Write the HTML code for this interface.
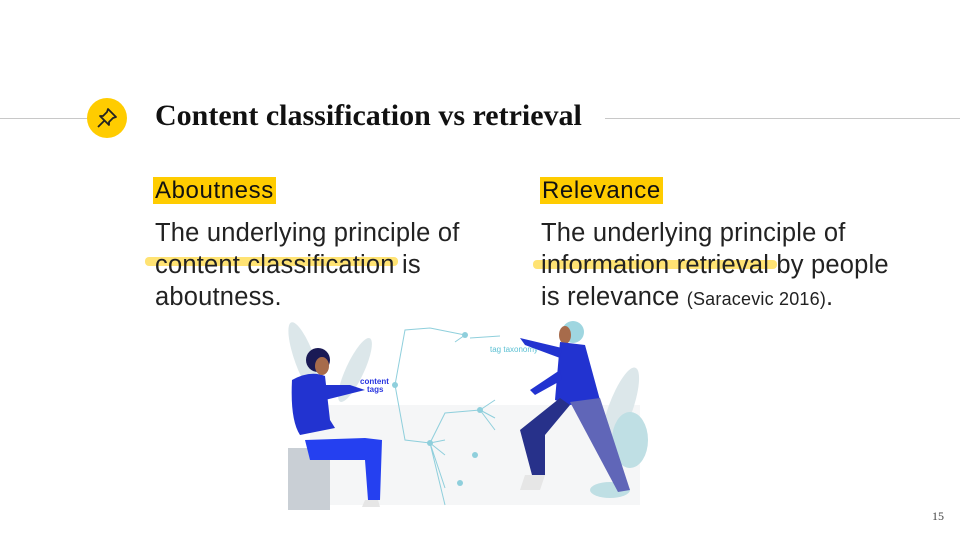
<!DOCTYPE html>
<html><head><meta charset="utf-8">
<style>
body{margin:0;width:960px;height:540px;background:#fff;position:relative;overflow:hidden;font-family:"Liberation Sans",sans-serif;}
.abs{position:absolute;}
.rule{position:absolute;top:118px;height:1px;background:#c8c8c8;}
.title{left:155px;top:99px;font-family:"Liberation Serif",serif;font-weight:bold;font-size:30px;color:#111;white-space:nowrap;}
.head{font-size:24px;color:#111;background:#ffcc00;padding:0 2px;line-height:28px;letter-spacing:0.6px;}
.body{font-size:25.5px;line-height:32px;color:#222;white-space:nowrap;letter-spacing:0.2px;}
.hl{position:absolute;height:9px;background:rgba(255,204,0,0.55);border-radius:4px;}
</style></head><body>
<div class="rule" style="left:0;width:88px"></div>
<div class="rule" style="left:605px;width:355px"></div>
<svg class="abs" style="left:86px;top:97px" width="42" height="42" viewBox="0 0 42 42">
<circle cx="21" cy="21" r="20" fill="#ffcc00"/>
<g stroke="#222" stroke-width="1.8" fill="none" stroke-linejoin="round"><path d="M22 12 L30 20 L27 21 L23 25 L23 28 L14 19 L17 19 L21 15 Z"/><path d="M18 24 L12 30"/></g>
</svg>
<div class="abs title">Content classification vs retrieval</div>

<div class="abs" style="left:153px;top:177px"><span class="head">Aboutness</span></div>
<div class="hl" style="left:145px;top:257px;width:253px"></div>
<div class="abs body" style="left:155px;top:217px">The underlying principle of<br>content classification is<br>aboutness.</div>

<div class="abs" style="left:540px;top:177px"><span class="head">Relevance</span></div>
<div class="hl" style="left:533px;top:260px;width:244px"></div>
<div class="abs body" style="left:541px;top:217px">The underlying principle of<br>information retrieval by people<br>is relevance <span style="font-size:18px">(Saracevic 2016)</span>.</div>

<svg class="abs" style="left:270px;top:310px" width="400" height="210" viewBox="0 0 400 210">
<rect x="40" y="95" width="330" height="100" fill="#f5f6f7"/>
<g fill="#dce7ea"><ellipse cx="35" cy="50" rx="10" ry="40" transform="rotate(-20 35 50)"/><ellipse cx="85" cy="60" rx="9" ry="35" transform="rotate(25 85 60)"/><ellipse cx="350" cy="100" rx="12" ry="45" transform="rotate(20 350 100)"/></g>
<g fill="#bfdfe4"><ellipse cx="360" cy="130" rx="18" ry="28"/><ellipse cx="340" cy="180" rx="20" ry="8"/></g>
<g stroke="#8fcfdc" stroke-width="1" fill="none">
<path d="M125 75 L135 20 L160 18 M125 75 L135 130 L160 133 M160 18 L195 25 M160 133 L175 103 L210 100 M160 133 L175 130 M160 133 L175 145 M160 133 L175 178 M160 133 L175 195 M210 100 L225 90 M210 100 L225 108 M210 100 L225 120 M200 28 L230 26 M195 25 L185 32"/>
</g>
<g fill="#8fcfdc"><circle cx="125" cy="75" r="3"/><circle cx="195" cy="25" r="3"/><circle cx="210" cy="100" r="3"/><circle cx="160" cy="133" r="3"/><circle cx="205" cy="145" r="3"/><circle cx="190" cy="173" r="3"/></g>
<text x="220" y="42" font-size="8" fill="#5cc0d3" font-family="Liberation Sans">tag taxonomy</text>
<text x="90" y="74" font-size="8" fill="#2a36e0" font-weight="bold" font-family="Liberation Sans">content</text>
<text x="97" y="82" font-size="8" fill="#2a36e0" font-weight="bold" font-family="Liberation Sans">tags</text>
<rect x="18" y="138" width="42" height="62" fill="#c9cfd5"/>
<path d="M35 130 L95 128 L112 130 L110 190 L98 190 L95 150 L40 150 Z" fill="#2540f0"/>
<path d="M22 70 Q40 60 55 66 L60 110 L65 118 L30 125 Q20 110 22 70 Z" fill="#2233d0"/>
<path d="M45 75 L80 75 L95 80 L55 90 Z" fill="#2233d0"/>
<circle cx="48" cy="50" r="12" fill="#1a1a55"/><ellipse cx="52" cy="56" rx="7" ry="9" fill="#a76b4b"/>
<path d="M95 190 L108 190 L110 197 L92 197 Z" fill="#e6e6e6"/>
<circle cx="303" cy="22" r="11" fill="#9fd6e0"/><ellipse cx="295" cy="25" rx="6" ry="9" fill="#a76b4b"/>
<path d="M290 32 L315 35 L330 90 L300 95 L285 90 Z" fill="#2233d0"/>
<path d="M250 28 L292 38 L290 48 L255 35 Z" fill="#2233d0"/>
<path d="M260 80 L290 60 L292 70 L265 85 Z" fill="#2233d0"/>
<path d="M290 88 L300 95 L275 125 L275 165 L262 165 L250 120 Z" fill="#27318a"/>
<path d="M300 92 L330 88 L360 180 L348 182 Z" fill="#6066b8"/>
<path d="M255 165 L275 165 L270 180 L250 180 Z" fill="#e6e6e6"/>
</svg>
<div class="abs" style="left:932px;top:509px;font-size:12px;color:#444;font-family:'Liberation Serif',serif">15</div>
</body></html>
